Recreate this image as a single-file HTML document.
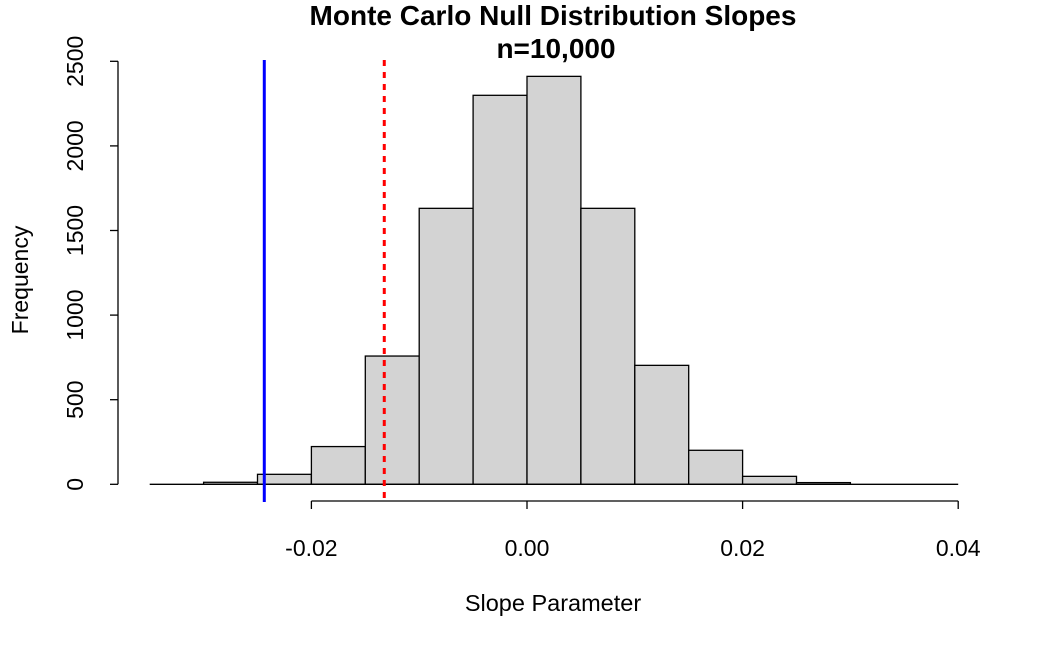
<!DOCTYPE html>
<html><head><meta charset="utf-8"><style>
body{margin:0;background:#fff}
svg text{font-family:"Liberation Sans",Arial,sans-serif;fill:#000}
</style></head><body>
<svg id="chart" width="1050" height="648" xmlns="http://www.w3.org/2000/svg">
<text x="553" y="25" font-size="28" font-weight="bold" text-anchor="middle">Monte Carlo Null Distribution Slopes</text>
<text x="556" y="58" font-size="28" font-weight="bold" text-anchor="middle">n=10,000</text>
<text x="553" y="611" font-size="23.5" text-anchor="middle">Slope Parameter</text>
<text x="0" y="0" font-size="23" text-anchor="middle" transform="translate(28,280) rotate(-90)">Frequency</text>
<g id="bars"></g><g id="axes"></g><g id="lines"></g>
</svg>
<script>
const binStarts=[-0.035,-0.03,-0.025,-0.02,-0.015,-0.01,-0.005,0,0.005,0.01,0.015,0.02,0.025,0.03,0.035];
const counts=[0,12,59,223,758,1631,2299,2411,1631,703,201,47,10,0,0];
const xTicks=[-0.02,0,0.02,0.04];
const xTickLabels=["-0.02","0.00","0.02","0.04"];
const yTicks=[0,500,1000,1500,2000,2500];
const refLines=[-0.02437,-0.01324];
const binWidth=0.005;
const NS="http://www.w3.org/2000/svg";
const X=v=>527+v*10780;
const Y=v=>484.3-v*0.1692;
function mk(tag,attrs,parent){const e=document.createElementNS(NS,tag);for(const k in attrs)e.setAttribute(k,attrs[k]);parent.appendChild(e);return e;}
const bars=document.getElementById('bars'),axes=document.getElementById('axes'),lines=document.getElementById('lines');
binStarts.forEach((b,i)=>{
  const x0=X(b),x1=X(b+binWidth),y=Y(counts[i]);
  const r=mk('rect',{x:x0,y:y,width:x1-x0,height:Y(0)-y,fill:'#d3d3d3',stroke:'#000','stroke-width':1.3},bars);
  
  
});
const base=mk('line',{x1:X(binStarts[0]),x2:X(binStarts[binStarts.length-1]+binWidth),y1:Y(0),y2:Y(0),stroke:'#000','stroke-width':1.3},bars);


const xa=mk('line',{x1:X(xTicks[0]),x2:X(xTicks[xTicks.length-1]),y1:501,y2:501,stroke:'#000','stroke-width':1.3},axes);


xTicks.forEach((t,i)=>{
  mk('line',{x1:X(t),x2:X(t),y1:501,y2:509,stroke:'#000','stroke-width':1.3},axes);
  const tx=mk('text',{x:X(t),y:556,'font-size':23,'text-anchor':'middle'},axes);
  tx.textContent=xTickLabels[i];
  
  
});
const ya=mk('line',{x1:118,x2:118,y1:Y(yTicks[0]),y2:Y(yTicks[yTicks.length-1]),stroke:'#000','stroke-width':1.3},axes);


yTicks.forEach(t=>{
  mk('line',{x1:110,x2:118,y1:Y(t),y2:Y(t),stroke:'#000','stroke-width':1.3},axes);
  const tx=mk('text',{x:0,y:0,'font-size':23,'text-anchor':'middle',transform:`translate(83,${Y(t)}) rotate(-90)`},axes);
  tx.textContent=String(t);
  
  
});
const b=mk('line',{x1:X(refLines[0]),x2:X(refLines[0]),y1:60,y2:502,stroke:'#0000ff','stroke-width':3},lines);


const r=mk('line',{x1:X(refLines[1]),x2:X(refLines[1]),y1:60,y2:502,stroke:'#ff0000','stroke-width':3,'stroke-dasharray':'6 6'},lines);


</script>
</body></html>
